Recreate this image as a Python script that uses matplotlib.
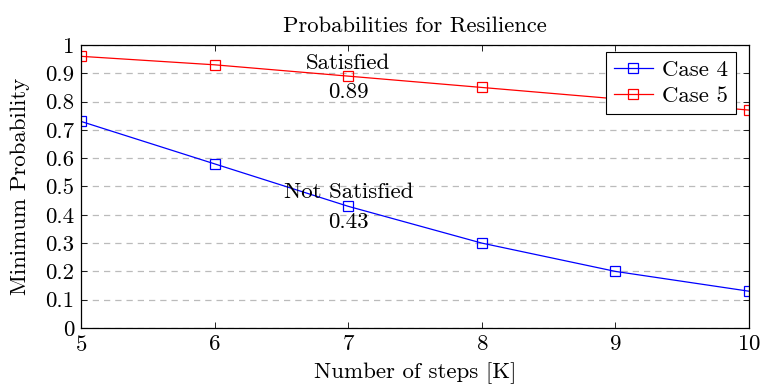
import matplotlib
matplotlib.use("Agg")
from matplotlib import pyplot as plt
from matplotlib.ticker import FuncFormatter, MultipleLocator

plt.rcParams['font.family'] = ['cmr10', 'DejaVu Serif']
plt.rcParams['mathtext.fontset'] = 'cm'
plt.rcParams['axes.formatter.use_mathtext'] = True

steps = [5, 6, 7, 8, 9, 10]
case4 = [0.73, 0.58, 0.43, 0.30, 0.20, 0.13]
case5 = [0.96, 0.93, 0.89, 0.85, 0.81, 0.77]

fs = 16.5

fig = plt.figure(figsize=(7.61, 3.91), dpi=100)
ax = fig.add_axes([81 / 761, 1 - 328 / 391, 668 / 761, 283 / 391])

ax.plot(steps, case4, color='blue', lw=0.9, marker='s', ms=7,
        mfc='none', mec='blue', mew=0.9, label='Case 4')
ax.plot(steps, case5, color='red', lw=0.9, marker='s', ms=7,
        mfc='none', mec='red', mew=0.9, label='Case 5')

ax.set_xlim(5, 10)
ax.set_ylim(0, 1)
ax.xaxis.set_major_locator(MultipleLocator(1))
ax.yaxis.set_major_locator(MultipleLocator(0.1))
ax.yaxis.set_major_formatter(FuncFormatter(lambda v, p: '%g' % round(v, 2)))
ax.tick_params(direction='in', length=4, width=0.6, top=True, right=True,
               labelsize=fs, colors='black', pad=5)
ax.grid(axis='y', linestyle=(0, (5, 4)), color='#bbbbbb', lw=0.9)
for s in ax.spines.values():
    s.set_linewidth(0.9)

# annotations at x = 7
ax.annotate('Satisfied', (steps[2], case5[2]), xytext=(0, 13),
            textcoords='offset pixels', ha='center', va='center', fontsize=fs)
ax.annotate('0.89', (steps[2], case5[2]), xytext=(0, -16),
            textcoords='offset pixels', ha='center', va='center', fontsize=fs)
ax.annotate('Not Satisfied', (steps[2], case4[2]), xytext=(0, 14),
            textcoords='offset pixels', ha='center', va='center', fontsize=fs)
ax.annotate('0.43', (steps[2], case4[2]), xytext=(0, -16),
            textcoords='offset pixels', ha='center', va='center', fontsize=fs)

ax.set_title('Probabilities for Resilience', fontsize=16.3, pad=9)
ax.set_xlabel('Number of steps [K]', fontsize=fs, labelpad=5)
ax.set_ylabel('Minimum Probability', fontsize=fs, labelpad=11)

leg = ax.legend(loc='upper right', bbox_to_anchor=(1 - 13 / 668, 1 - 7 / 283),
                fontsize=fs, fancybox=False, edgecolor='black', framealpha=1,
                handlelength=1.7, borderaxespad=0, borderpad=0.35,
                labelspacing=0.25, handletextpad=0.4)
leg.get_frame().set_linewidth(0.8)

fig.savefig('out.png', dpi=100)
